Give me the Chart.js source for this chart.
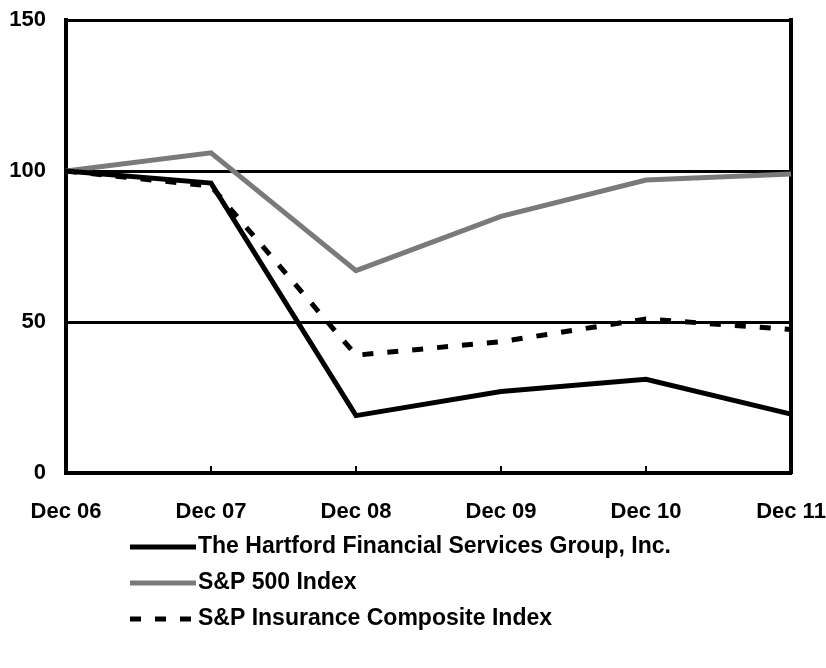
<!DOCTYPE html>
<html lang="en">
<head>
<meta charset="UTF-8">
<title>Cumulative Total Return</title>
<script src="https://cdn.jsdelivr.net/npm/chart.js"></script>
<style>
    body { margin: 0; background: #fff; }
    #wrap { width: 826px; height: 668px; }
</style>
</head>
<body>
<div id="wrap"><canvas id="returnChart" width="826" height="668"></canvas></div>
<script>
    const years = ['Dec 06', 'Dec 07', 'Dec 08', 'Dec 09', 'Dec 10', 'Dec 11'];
    const hartford = [100, 96, 19, 27, 31, 19.5];
    const sp500 = [100, 106, 67, 85, 97, 99];
    const spInsurance = [100, 95, 39, 43.5, 51, 47.5];
    const yTicks = [0, 50, 100, 150];

    const FAMILY = 'Liberation Sans, Arial, sans-serif';
    const FONT = { family: FAMILY, size: 22, weight: 'bold' };

    // legend drawn below the plot, one entry per row
    const rowLegend = {
        id: 'rowLegend',
        afterDraw(chart, args, opts) {
            const ctx = chart.ctx;
            ctx.save();
            chart.data.datasets.forEach((ds, i) => {
                const y = opts.top + i * opts.rowGap;
                ctx.beginPath();
                ctx.strokeStyle = ds.borderColor;
                ctx.lineWidth = ds.borderWidth;
                ctx.setLineDash(ds.borderDash || []);
                ctx.moveTo(opts.left, y);
                ctx.lineTo(opts.left + opts.lineLen, y);
                ctx.stroke();
                ctx.setLineDash([]);
                ctx.fillStyle = '#000';
                ctx.font = `bold ${opts.fontSize}px ${FAMILY}`;
                ctx.textBaseline = 'middle';
                ctx.fillText(ds.label, opts.left + opts.lineLen + 2, y);
            });
            ctx.restore();
        }
    };

    new Chart(document.getElementById('returnChart'), {
        type: 'line',
        data: {
            labels: years,
            datasets: [
                {
                    label: 'The Hartford Financial Services Group, Inc.',
                    data: hartford,
                    borderColor: '#000',
                    borderWidth: 5,
                    pointRadius: 0,
                    tension: 0
                },
                {
                    label: 'S&P 500 Index',
                    data: sp500,
                    borderColor: '#7a7a7a',
                    borderWidth: 5,
                    pointRadius: 0,
                    tension: 0
                },
                {
                    label: 'S&P Insurance Composite Index',
                    data: spInsurance,
                    borderColor: '#000',
                    borderWidth: 5,
                    borderDash: [11, 14],
                    pointRadius: 0,
                    tension: 0
                }
            ]
        },
        options: {
            responsive: false,
            animation: false,
            layout: { padding: { top: 20, left: 0, right: 0, bottom: 146 } },
            plugins: {
                legend: { display: false },
                tooltip: { enabled: false },
                rowLegend: { left: 130, lineLen: 66, top: 547, rowGap: 36, fontSize: 23 }
            },
            scales: {
                x: {
                    offset: false,
                    afterFit: axis => {
                        axis.height = 49;
                        axis.paddingLeft = 0;
                        axis.paddingRight = 0;
                    },
                    grid: {
                        drawOnChartArea: false,
                        color: '#000',
                        lineWidth: 2,
                        tickLength: -7
                    },
                    border: { color: '#000', width: 4 },
                    ticks: { color: '#000', font: FONT, padding: 33, maxRotation: 0 }
                },
                y: {
                    min: 0,
                    max: 150,
                    afterFit: axis => {
                        axis.width = 66;
                        axis.paddingTop = 0;
                        axis.paddingBottom = 0;
                    },
                    afterBuildTicks: axis => { axis.ticks = yTicks.map(v => ({ value: v })); },
                    grid: {
                        drawTicks: false,
                        lineWidth: 3,
                        color: c => (c.tick && c.tick.value > 0) ? '#000' : 'rgba(0,0,0,0)'
                    },
                    border: { color: '#000', width: 4 },
                    ticks: { color: '#000', font: FONT, padding: 20 }
                },
                yRight: {
                    position: 'right',
                    min: 0,
                    max: 150,
                    afterFit: axis => { axis.width = 35; },
                    grid: { drawOnChartArea: false, drawTicks: false },
                    border: { color: '#000', width: 4 },
                    ticks: { display: false }
                }
            }
        },
        plugins: [rowLegend]
    });
</script>
</body>
</html>
